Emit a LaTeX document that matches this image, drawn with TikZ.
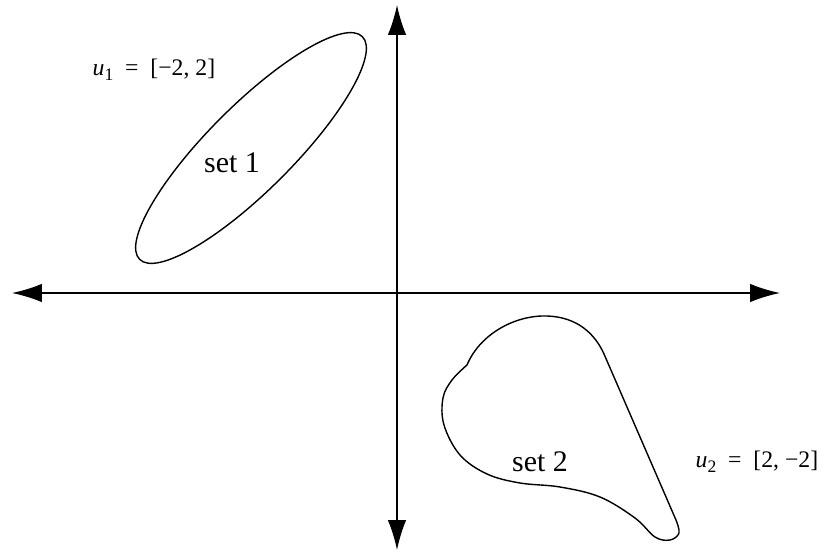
\documentclass[tikz,border=0pt]{standalone}
\usepackage{fontspec}
\setmainfont{Liberation Serif}
\usetikzlibrary{arrows.meta}
\newcommand{\subone}[1]{\raisebox{-0.45ex}{\fontsize{10}{10}\selectfont #1}}
\begin{document}
\begin{tikzpicture}[>={Latex[length=17pt,width=10.5pt]}, line width=0.8pt,
    setlabel/.style={font=\fontsize{17}{20}\selectfont},
    ulabel/.style={font=\fontsize{13.5}{16}\selectfont, anchor=west, inner sep=0pt}]
    \useasboundingbox (0,0) rectangle (16.44,11.08);
    % 1. Hệ trục
    \coordinate (xl) at (0.24,5.22);
    \coordinate (xr) at (15.60,5.22);
    \coordinate (yb) at (7.94,0.08);
    \coordinate (yt) at (7.94,10.98);
    \draw[<->] (xl) -- (xr);
    \draw[<->] (yb) -- (yt);

    % 2. Tập 1
    \draw[rotate around={45:(5.02,8.12)}] (5.02,8.12) ellipse [x radius=3.15, y radius=0.85];
    \node[setlabel] (set1) at (4.64,7.82) {set 1};

    % 3. Tập 2
    \draw (9.34,3.78) .. controls (9.60,4.40) and (10.30,4.78) .. (10.94,4.76)
        .. controls (11.55,4.74) and (11.90,4.40) .. (12.08,4.00)
        -- plot[smooth, tension=0.6] coordinates {(13.52,0.68) (13.58,0.42) (13.40,0.28)
        (13.10,0.34) (12.70,0.72) (12.00,1.14) (11.20,1.34) (10.40,1.42) (9.74,1.60)
        (9.20,1.98) (8.88,2.58) (8.86,3.12) (9.04,3.48) (9.34,3.78)};
    \node[setlabel] (set2) at (10.80,1.84) {set 2};

    % 4. Nhãn
    \node[ulabel] (u1) at (1.84,9.68) {\textit{u}\subone{1}\enspace=\enspace[−2, 2]};
    \node[ulabel] (u2) at (13.90,1.84) {\textit{u}\subone{2}\enspace=\enspace[2, −2]};
\end{tikzpicture}
\end{document}
